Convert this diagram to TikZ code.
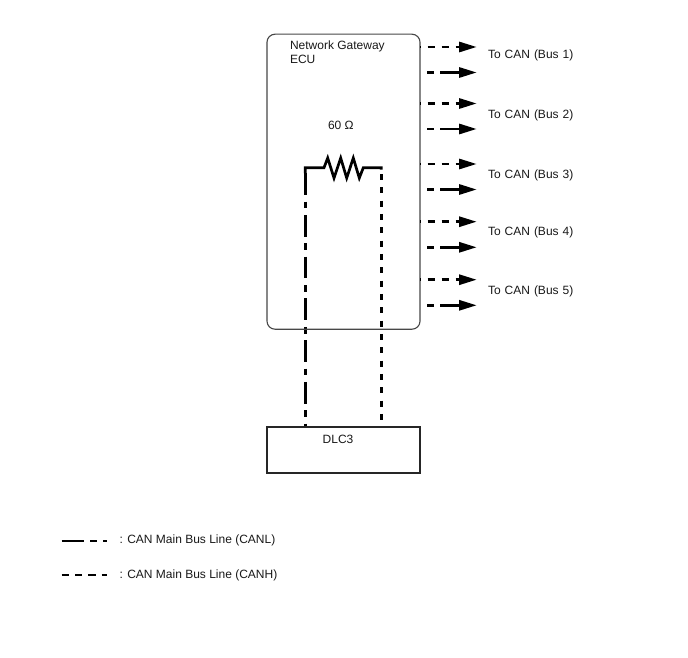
\documentclass[tikz,border=0pt]{standalone}
\usepackage{fontspec}
\setmainfont{Liberation Sans}
\usetikzlibrary{arrows.meta}
\tikzset{
  x=1pt,y=-1pt,
  lbl/.style={anchor=base west,inner sep=0pt,outer sep=0pt,font=\fontsize{12}{14}\selectfont,text=black!90},
  boxedge/.style={draw=#1,line width=1.1pt,inner sep=0pt,outer sep=0pt,minimum width=153pt},
  wire/.style={line width=2.8pt,black},
  canl/.style={wire,dash pattern=on 21.7pt off 6.7pt on 6.7pt off 6.6pt},
  canh/.style={wire,dash pattern=on 6pt off 7.33pt},
  legl/.style={line width=2.9pt,black,dash pattern=on 22.3pt off 6pt on 7.3pt off 6pt},
  legh/.style={line width=2.9pt,black,dash pattern=on 7.3pt off 6pt},
  hi/.style={line width=2.6pt,black,dash pattern=on 7.3pt off 6.7pt,dash phase=6.3pt,-{Triangle[length=17.5pt,width=10pt]}},
  lo/.style={line width=2.6pt,black,dash pattern=on 6.7pt off 6.6pt on 100pt off 0pt,-{Triangle[length=17.5pt,width=10pt]}},
}
\begin{document}
\begin{tikzpicture}
\useasboundingbox (0,0) rectangle (688,658);
\fill[white] (0,0) rectangle (688,658);

% resistor and the two wires
\coordinate (rl) at (305.3,167.7);
\coordinate (rr) at (381.3,167.7);
\coordinate (lv) at (305.3,173.3);
\coordinate (ld) at (305.3,427);
\coordinate (rv) at (381.3,174);
\coordinate (rd) at (381.3,422);
\draw[line width=2.7pt,black,miter limit=10] (lv) -- (rl) -- (324,167.7) -- (327.7,158) -- (334,178) -- (340.7,158) -- (346.7,178) -- (353.3,158) -- (359.3,178) -- (363.3,167.7) -- (rr) -- ++(0,1.8);
\draw[canl] (lv) -- (ld);
\draw[canh] (rv) -- (rd);

% boxes
\node[boxedge={black!72},rounded corners=8pt,minimum height=295pt] (ecu) at (343.5,181.7) {};
\node[boxedge={black!85},minimum height=46pt] (dlc) at (343.5,450) {};

% outgoing bus lines
\foreach \n/\ya/\yb/\yt/\b in {a/47/72.5/59/1,b/103.5/129/118.7/2,c/164/189.5/178.5/3,d/221.7/247.3/235.5/4,e/279.7/305.3/294.5/5}{
  \node[lbl] (bus\n) at (488,\yt) {\spaceskip=4pt To CAN (Bus \b)};
  \coordinate (hs\n) at (ecu.east |- 0,\ya);
  \coordinate (he\n) at (476.7,\ya);
  \coordinate (ls\n) at (427,\yb);
  \coordinate (le\n) at (476.7,\yb);
  \draw[hi] (hs\n) -- (he\n);
  \draw[lo] (ls\n) -- (le\n);
}

% labels
\node[lbl] (t1) at (290,50) {Network Gateway};
\node[lbl] (t2) at (290,64) {ECU};
\node[lbl] (t3) at (328,130) {60 Ω};
\node[lbl] (t4) at (322.7,443.5) {DLC3};

% legend
\coordinate (a1) at (61.7,541);
\coordinate (a2) at (107,541);
\coordinate (b1) at (61.7,575);
\coordinate (b2) at (107,575);
\draw[legl] (a1) -- (a2);
\draw[legh] (b1) -- (b2);
\node[lbl] (t5) at (119.5,543) {: CAN Main Bus Line (CANL)};
\node[lbl] (t6) at (119.5,578) {: CAN Main Bus Line (CANH)};
\end{tikzpicture}
\end{document}
